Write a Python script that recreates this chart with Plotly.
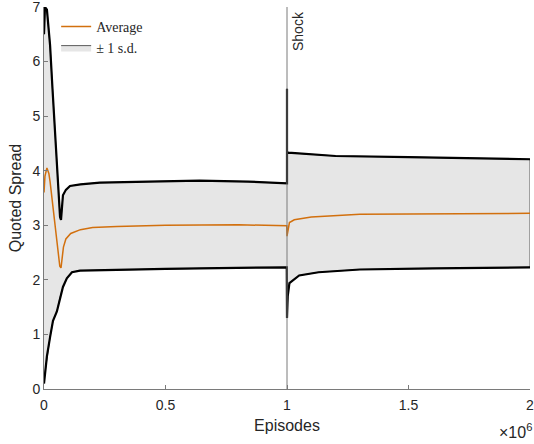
import plotly.graph_objects as go

# ---- data (episodes in units of 1e6) ----
ep_upper = [0.0, 0.004, 0.012, 0.02, 0.025, 0.035, 0.045, 0.053, 0.06, 0.066, 0.07, 0.078, 0.09,
            0.107, 0.15, 0.23, 0.43, 0.64, 0.84, 0.999, 1.0, 1.0, 1.0, 1.005, 1.1, 1.2, 1.5, 1.8, 2.0]
upper = [6.5, 7.0, 6.95, 6.6, 6.3, 5.5, 4.8, 4.1, 3.6, 3.15, 3.1, 3.55, 3.65,
         3.72, 3.75, 3.78, 3.8, 3.82, 3.8, 3.77, 3.77, 5.5, 4.35, 4.33, 4.3, 4.27, 4.25, 4.22, 4.21]

ep_mean = [0.0, 0.004, 0.012, 0.02, 0.025, 0.035, 0.045, 0.055, 0.065, 0.07, 0.08, 0.09, 0.11,
           0.15, 0.2, 0.3, 0.5, 0.8, 0.999, 1.0, 1.005, 1.01, 1.03, 1.1, 1.3, 1.6, 2.0]
mean = [3.6, 3.9, 4.05, 3.95, 3.8, 3.4, 3.0, 2.6, 2.25, 2.22, 2.6, 2.75, 2.85,
        2.92, 2.96, 2.98, 3.0, 3.01, 2.99, 2.8, 2.95, 3.05, 3.1, 3.15, 3.2, 3.21, 3.22]

ep_lower = [0.0, 0.004, 0.012, 0.025, 0.037, 0.053, 0.066, 0.078, 0.094, 0.115, 0.148, 0.23,
            0.5, 0.64, 0.999, 1.0, 1.003, 1.01, 1.05, 1.13, 1.3, 1.6, 2.0]
lower = [0.1, 0.3, 0.6, 0.95, 1.25, 1.42, 1.68, 1.87, 2.03, 2.14, 2.17, 2.18,
         2.2, 2.21, 2.23, 1.3, 1.7, 1.94, 2.08, 2.14, 2.19, 2.21, 2.23]

shock_episode = 1.0
x_tickvals = [0, 0.5, 1, 1.5, 2]
x_ticktext = ["0", "0.5", "1", "1.5", "2"]
y_tickvals = [0, 1, 2, 3, 4, 5, 6, 7]

SCALE = 1e6
xs = lambda a: [v * SCALE for v in a]

fig = go.Figure()

# +-1 s.d. band polygon
fig.add_trace(go.Scatter(
    x=xs(ep_upper) + xs(ep_lower)[::-1],
    y=upper + lower[::-1],
    fill="toself", fillcolor="#e6e6e6",
    line=dict(color="#5a5a5a", width=1),
    mode="lines", name="± 1 s.d.", legendrank=2, hoverinfo="skip"))

fig.add_trace(go.Scatter(x=xs(ep_upper), y=upper, mode="lines",
                         line=dict(color="black", width=2.2), showlegend=False))
fig.add_trace(go.Scatter(x=xs(ep_lower), y=lower, mode="lines",
                         line=dict(color="black", width=2.2), showlegend=False))
fig.add_trace(go.Scatter(x=xs(ep_mean), y=mean, mode="lines",
                         line=dict(color="#d2700e", width=1.5), name="Average", legendrank=1))

fig.add_shape(type="line", x0=shock_episode * SCALE, x1=shock_episode * SCALE,
              y0=0, y1=1, yref="paper", line=dict(color="#7a7a7a", width=1), layer="above")
fig.add_annotation(x=shock_episode * SCALE, y=1, yref="paper", text="Shock", textangle=-90,
                   showarrow=False, xanchor="left", yanchor="top", xshift=1, yshift=-2,
                   font=dict(family="Liberation Sans, Arial", size=14, color="#262626"))
fig.add_annotation(x=1, y=0, xref="paper", yref="paper", text="×10<sup>6</sup>",
                   showarrow=False, xanchor="right", yanchor="top", yshift=-30, xshift=4,
                   font=dict(family="Liberation Sans, Arial", size=16, color="#262626"))

axis_font = dict(family="Liberation Sans, Arial", size=14, color="#262626")
title_font = dict(family="Liberation Sans, Arial", size=16, color="#262626")
fig.update_xaxes(range=[0, 2 * SCALE * 1.00001], tickvals=xs(x_tickvals), ticktext=x_ticktext,
                 ticks="inside", ticklen=4, tickcolor="#7a7a7a", showline=True,
                 linecolor="#7a7a7a", linewidth=1, showgrid=False, zeroline=False,
                 ticklabeloverflow="allow", ticklabelstandoff=3, automargin=False,
                 tickfont=axis_font, title=dict(text="Episodes", font=title_font, standoff=8))
fig.update_yaxes(range=[0, 7.0001], tickvals=y_tickvals, ticks="inside", ticklen=4,
                 tickcolor="#7a7a7a", showline=True, linecolor="#7a7a7a", linewidth=1,
                 showgrid=False, zeroline=False, tickfont=axis_font, ticklabeloverflow="allow",
                 automargin=False,
                 title=dict(text="Quoted Spread", font=title_font, standoff=6))

fig.update_layout(
    width=534, height=444, margin=dict(l=44, r=4, t=7, b=55),
    plot_bgcolor="white", paper_bgcolor="white",
    legend=dict(x=0.025, y=0.99, xanchor="left", yanchor="top", bgcolor="rgba(0,0,0,0)",
                font=dict(family="Liberation Serif, DejaVu Serif", size=14, color="#262626"),
                tracegroupgap=0, itemwidth=30),
    showlegend=True)

fig.write_html("out.html")
